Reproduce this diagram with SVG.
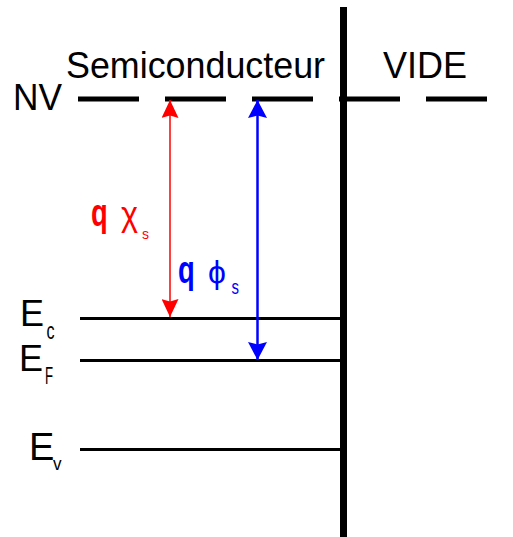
<svg xmlns="http://www.w3.org/2000/svg" width="513" height="537" viewBox="0 0 513 537">
<style>
text{font-family:"Liberation Sans",Arial,sans-serif;}
.lbl{font-size:36px;fill:#000;}
.lvl{stroke:#000;stroke-width:3;fill:none;}
.red{fill:#ff0000;}
.blue{fill:#0000ff;}
</style>
<defs>
<marker id="ahRed" markerUnits="userSpaceOnUse" viewBox="0 0 18 17" refX="18" refY="8.5" markerWidth="18" markerHeight="17" orient="auto-start-reverse">
<path d="M0,0 L18,8.5 L0,17 L2.5,8.5 Z" fill="#ff0000"/>
</marker>
<marker id="ahBlue" markerUnits="userSpaceOnUse" viewBox="0 0 18 19" refX="18" refY="9.5" markerWidth="18" markerHeight="19" orient="auto-start-reverse">
<path d="M0,0 L18,9.5 L0,19 L2.5,9.5 Z" fill="#0000ff"/>
</marker>
</defs>
<rect width="513" height="537" fill="#fff"/>

<g id="titles">
<text class="lbl" x="66" y="78" textLength="259" lengthAdjust="spacingAndGlyphs">Semiconducteur</text>
<text class="lbl" x="383" y="78" textLength="84" lengthAdjust="spacingAndGlyphs">VIDE</text>
</g>

<g id="NV">
<text class="lbl" x="13" y="110" textLength="49" lengthAdjust="spacingAndGlyphs">NV</text>
<line x1="78" y1="99" x2="513" y2="99" stroke="#000" stroke-width="5" stroke-dasharray="61 26"/>
</g>

<g id="interface">
<rect x="340" y="7" width="7" height="530" fill="#000"/>
</g>

<g id="Ec">
<line class="lvl" x1="80" y1="318.5" x2="343" y2="318.5"/>
<text class="lbl" x="20" y="326">E</text>
<text transform="translate(46.5,339) scale(0.7,1)" style="font-size:23px">c</text>
</g>

<g id="EF">
<line class="lvl" x1="80" y1="360.5" x2="343" y2="360.5"/>
<text class="lbl" x="19" y="371">E</text>
<text transform="translate(45,384) scale(0.55,1)" style="font-size:24px">F</text>
</g>

<g id="Ev">
<line class="lvl" x1="80" y1="449.5" x2="343" y2="449.5"/>
<text class="lbl" x="29" y="460" style="font-size:38px">E</text>
<text transform="translate(53,470) scale(0.9,1)" style="font-size:19px">v</text>
</g>

<g id="connectors">
<line x1="170" y1="100" x2="170" y2="317" stroke="#ff0000" stroke-width="1.5" marker-start="url(#ahRed)" marker-end="url(#ahRed)"/>
<line x1="257.5" y1="100" x2="257.5" y2="360" stroke="#0000ff" stroke-width="2.5" marker-start="url(#ahBlue)" marker-end="url(#ahBlue)"/>
</g>

<g id="chi">
<text class="red" transform="translate(91,226) scale(0.72,1)" style="font-size:38px;font-weight:bold">q</text>
<text class="red" transform="translate(121,226) scale(0.9,1)" style="font-size:36px">χ</text>
<text class="red" x="142" y="239" style="font-size:14px">s</text>
</g>

<g id="phi">
<text class="blue" transform="translate(178,283) scale(0.72,1)" style="font-size:38px;font-weight:bold">q</text>
<text class="blue" x="208" y="283" style="font-size:32px">ϕ</text>
<text class="blue" transform="translate(231.5,294) scale(0.75,1)" style="font-size:20px">s</text>
</g>
</svg>
